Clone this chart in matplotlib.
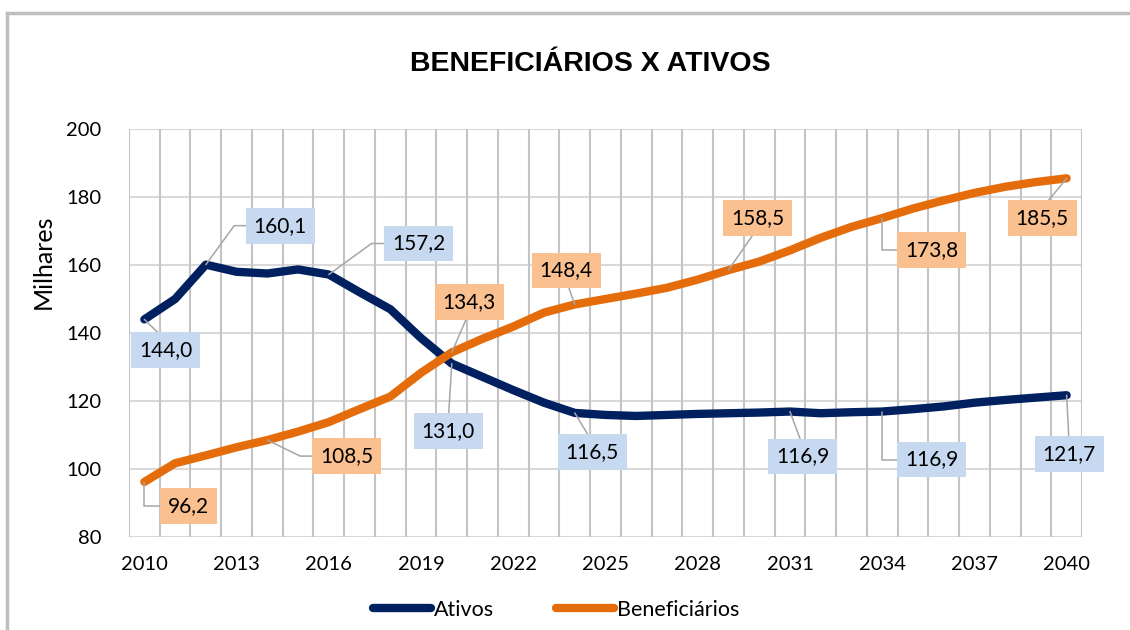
import matplotlib
matplotlib.use("Agg")
import matplotlib.pyplot as plt
from matplotlib.lines import Line2D

years = [2010, 2011, 2012, 2013, 2014, 2015, 2016, 2017, 2018, 2019, 2020,
         2021, 2022, 2023, 2024, 2025, 2026, 2027, 2028, 2029, 2030,
         2031, 2032, 2033, 2034, 2035, 2036, 2037, 2038, 2039, 2040]
ativos = [144.0, 150.0, 160.1, 158.0, 157.5, 158.7, 157.2, 152.0, 147.0, 138.5, 131.0,
          127.1, 123.2, 119.5, 116.5, 115.9, 115.6, 115.9, 116.2, 116.4, 116.6,
          116.9, 116.4, 116.7, 116.9, 117.6, 118.4, 119.5, 120.3, 121.0, 121.7]
beneficiarios = [96.2, 101.7, 104.0, 106.4, 108.5, 111.0, 113.8, 117.6, 121.3, 128.3, 134.3,
                 138.3, 141.9, 146.0, 148.4, 150.0, 151.6, 153.3, 155.7, 158.5, 161.0,
                 164.3, 168.0, 171.2, 173.8, 176.6, 179.0, 181.2, 183.0, 184.4, 185.5]
tick_years = [2010, 2013, 2016, 2019, 2022, 2025, 2028, 2031, 2034, 2037, 2040]
y_ticks = [80, 100, 120, 140, 160, 180, 200]
labeled_ativos = [2010, 2012, 2016, 2020, 2024, 2031, 2034, 2040]
labeled_benef = [2010, 2014, 2020, 2024, 2029, 2034, 2040]

# label placement (pixel offsets of box centre from the point, leader style)
ativos_label_style = [
    ((21.5, -31), "arc3", (0.5, 1)),
    ((74.5, 39), "angle,angleA=0,angleB=54,rad=0", (0, 0.5)),
    ((90, 31), "angle,angleA=0,angleB=36,rad=0", (0, 0.5)),
    ((-3.5, -67), "arc3", (0.5, 1)),
    ((17.5, -39), "arc3", (0.5, 1)),
    ((13, -45), "arc3", (0.5, 1)),
    ((49.5, -48), "angle,angleA=0,angleB=90,rad=0", (0, 0.5)),
    ((2.5, -59), "arc3", (0.5, 1)),
]
benef_label_style = [
    ((44.5, -24), "angle,angleA=0,angleB=90,rad=0", (0, 0.5)),
    ((79.5, -16), "angle,angleA=0,angleB=-26,rad=0", (0, 0.5)),
    ((17.5, 50.5), "arc3", (0.5, 0)),
    ((-8.5, 34), "arc3", (0.5, 0)),
    ((29.5, 52.5), "arc3", (0.5, 0)),
    ((49.5, -32), "angle,angleA=0,angleB=90,rad=0", (0, 0.5)),
    ((-24.5, -40), "arc3", (0.5, 1)),
]

NAVY = "#002060"
ORANGE = "#E46C0A"
BLUE_BOX = "#C6D9F1"
ORANGE_BOX = "#FAC090"

plt.rcParams['font.family'] = ['Lato', 'DejaVu Sans']

fig = plt.figure(figsize=(11.3, 6.3), dpi=100)
ax = fig.add_axes([129 / 1130, 1 - 537 / 630, (1082 - 129) / 1130, (537 - 129) / 630])

idx = list(range(len(years)))
ax.plot(idx, ativos, color=NAVY, lw=6, solid_capstyle='round', solid_joinstyle='round',
        zorder=3, label='Ativos')
ax.plot(idx, beneficiarios, color=ORANGE, lw=6, solid_capstyle='round', solid_joinstyle='round',
        zorder=3, label='Beneficiários')

ax.set_xlim(-0.5, len(years) - 0.5)
ax.set_ylim(80, 200)
ax.set_yticks(y_ticks)
ax.set_yticklabels([str(v) for v in y_ticks])
ax.set_xticks([years.index(y) for y in tick_years])
ax.set_xticklabels([str(y) for y in tick_years])
ax.tick_params(axis='both', length=0, labelsize=14.5)
ax.tick_params(axis='y', pad=20)
ax.tick_params(axis='x', pad=14)

for yv in y_ticks:
    ax.axhline(yv, color='#D9D9D9', lw=1.5, zorder=1)
for k in range(len(years) + 1):
    ax.axvline(k - 0.5, color='#C4C4C4', lw=1.5, zorder=1)
for s in ax.spines.values():
    s.set_visible(False)


def fmt(v):
    return f"{v:.1f}".replace('.', ',')


def add_labels(series, labeled, styles, boxcolor):
    for yr, (off, conn, rel) in zip(labeled, styles):
        i = years.index(yr)
        ax.annotate(fmt(series[i]), xy=(i, series[i]), xytext=off, textcoords='offset pixels',
                    ha='center', va='center', fontsize=15, zorder=6,
                    bbox=dict(boxstyle='square,pad=0.38', fc=boxcolor, ec='none'),
                    arrowprops=dict(arrowstyle='-', color='#A6A6A6', lw=1.1, relpos=rel,
                                    connectionstyle=conn, shrinkA=0, shrinkB=0))


add_labels(ativos, labeled_ativos, ativos_label_style, BLUE_BOX)
add_labels(beneficiarios, labeled_benef, benef_label_style, ORANGE_BOX)

fig.text(590 / 1130, 1 - 64 / 630, 'BENEFICIÁRIOS X ATIVOS', ha='center', va='center',
         fontsize=20.5, fontweight='bold', family=['Liberation Sans', 'DejaVu Sans'])
fig.text(43 / 1130, 1 - 262 / 630, 'Milhares', rotation=90, ha='center', va='center', fontsize=18)

leg = fig.legend(handles=[Line2D([], [], color=NAVY, lw=6, solid_capstyle='round'),
                          Line2D([], [], color=ORANGE, lw=6, solid_capstyle='round')],
                 labels=['Ativos', 'Beneficiários'], loc='center',
                 bbox_to_anchor=(556 / 1130, 1 - 610 / 630), ncol=2, frameon=False,
                 fontsize=15.5, handlelength=2.7, handletextpad=0.12, columnspacing=2.9)

fig.add_artist(Line2D([7 / 1130, 1], [1 - 13 / 630, 1 - 13 / 630], color='#BFBFBF', lw=2.5,
                      transform=fig.transFigure))
fig.add_artist(Line2D([7 / 1130, 7 / 1130], [0, 1 - 13 / 630], color='#BFBFBF', lw=2.5,
                      transform=fig.transFigure))

fig.savefig('out.png', dpi=100)
